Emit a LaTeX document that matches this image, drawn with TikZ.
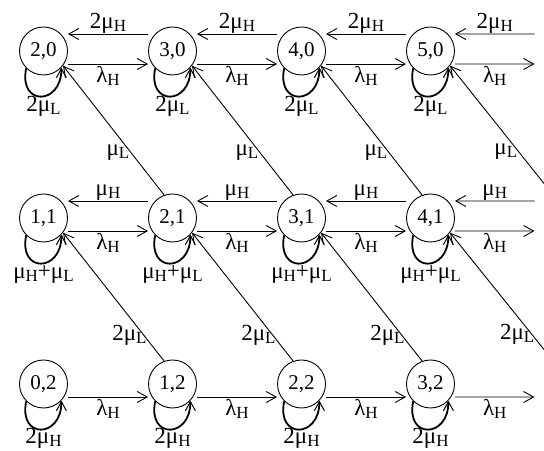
\documentclass[tikz,border=0pt]{standalone}
\usepackage{fontspec}
\setmainfont{Liberation Serif}
\usetikzlibrary{arrows.meta,calc}
\newcommand\sbs[1]{\raisebox{-3bp}{\fontsize{17bp}{17bp}\selectfont #1}}
\begin{document}
\begin{tikzpicture}[x=1bp,y=1bp,
  state/.style={circle,draw,line width=0.9bp,minimum size=48bp,inner sep=0pt,font=\fontsize{21bp}{24bp}\selectfont},
  tr/.style={line width=0.9bp,-{Straight Barb[length=10bp,width=11bp]}},
  selfloop/.style={line width=1.8bp,-{Straight Barb[length=9bp,width=10bp,line width=1bp]}},
  lbl/.style={font=\fontsize{23bp}{26bp}\selectfont,inner sep=0.5bp},
  lblb/.style={lbl,inner sep=2bp},
  diag/.style={lbl,anchor=east,inner sep=1bp},
]
\useasboundingbox (0,0) rectangle (544,451);

% states
\node[state] (s20) at (43.5,400) {2,0};
\node[state] (s30) at (172.5,400) {3,0};
\node[state] (s40) at (301.5,400) {4,0};
\node[state] (s50) at (430.5,400) {5,0};
\node[state] (s11) at (43.5,233) {1,1};
\node[state] (s21) at (172.5,233) {2,1};
\node[state] (s31) at (301.5,233) {3,1};
\node[state] (s41) at (430.5,233) {4,1};
\node[state] (s02) at (43.5,67) {0,2};
\node[state] (s12) at (172.5,67) {1,2};
\node[state] (s22) at (301.5,67) {2,2};
\node[state] (s32) at (430.5,67) {3,2};

% free ends at the right edge
\coordinate (e0t) at (534.5,417);
\coordinate (e0b) at (534.5,387);
\coordinate (e1t) at (534.5,250);
\coordinate (e1b) at (534.5,220);
\coordinate (e2b) at (534.5,54);
\coordinate (d0) at (544,267.5);
\coordinate (d1) at (544,101.5);

% row 0 horizontal
\draw[tr] ([yshift=17bp]s30.west) -- node[lbl,above]{2μ\sbs{H}} ([yshift=17bp]s20.east);
\draw[tr] ([yshift=17bp]s40.west) -- node[lbl,above]{2μ\sbs{H}} ([yshift=17bp]s30.east);
\draw[tr] ([yshift=17bp]s50.west) -- node[lbl,above]{2μ\sbs{H}} ([yshift=17bp]s40.east);
\draw[tr] (e0t) -- node[lbl,above]{2μ\sbs{H}} ([yshift=17bp]s50.east);
\draw[tr] ([yshift=-13bp]s20.east) -- node[lblb,below]{λ\sbs{H}} ([yshift=-13bp]s30.west);
\draw[tr] ([yshift=-13bp]s30.east) -- node[lblb,below]{λ\sbs{H}} ([yshift=-13bp]s40.west);
\draw[tr] ([yshift=-13bp]s40.east) -- node[lblb,below]{λ\sbs{H}} ([yshift=-13bp]s50.west);
\draw[tr] ([yshift=-13bp]s50.east) -- node[lblb,below]{λ\sbs{H}} (e0b);

% row 1 horizontal
\draw[tr] ([yshift=17bp]s21.west) -- node[lbl,above]{μ\sbs{H}} ([yshift=17bp]s11.east);
\draw[tr] ([yshift=17bp]s31.west) -- node[lbl,above]{μ\sbs{H}} ([yshift=17bp]s21.east);
\draw[tr] ([yshift=17bp]s41.west) -- node[lbl,above]{μ\sbs{H}} ([yshift=17bp]s31.east);
\draw[tr] (e1t) -- node[lbl,above]{μ\sbs{H}} ([yshift=17bp]s41.east);
\draw[tr] ([yshift=-13bp]s11.east) -- node[lblb,below]{λ\sbs{H}} ([yshift=-13bp]s21.west);
\draw[tr] ([yshift=-13bp]s21.east) -- node[lblb,below]{λ\sbs{H}} ([yshift=-13bp]s31.west);
\draw[tr] ([yshift=-13bp]s31.east) -- node[lblb,below]{λ\sbs{H}} ([yshift=-13bp]s41.west);
\draw[tr] ([yshift=-13bp]s41.east) -- node[lblb,below]{λ\sbs{H}} (e1b);

% row 2 horizontal
\draw[tr] ([yshift=-13bp]s02.east) -- node[lblb,below]{λ\sbs{H}} ([yshift=-13bp]s12.west);
\draw[tr] ([yshift=-13bp]s12.east) -- node[lblb,below]{λ\sbs{H}} ([yshift=-13bp]s22.west);
\draw[tr] ([yshift=-13bp]s22.east) -- node[lblb,below]{λ\sbs{H}} ([yshift=-13bp]s32.west);
\draw[tr] ([yshift=-13bp]s32.east) -- node[lblb,below]{λ\sbs{H}} (e2b);

% diagonals row 1 -> row 0
\draw[tr] (s21.110) -- node[diag,pos=0.33]{μ\sbs{L}} (s20.-37);
\draw[tr] (s31.110) -- node[diag,pos=0.33]{μ\sbs{L}} (s30.-37);
\draw[tr] (s41.110) -- node[diag,pos=0.33]{μ\sbs{L}} (s40.-37);
\draw[tr] (d0) -- node[diag,pos=0.27]{μ\sbs{L}} (s50.-37);

% diagonals row 2 -> row 1
\draw[tr] (s12.110) -- node[diag,pos=0.2,inner sep=0pt,xshift=3bp]{2μ\sbs{L}} (s11.-37);
\draw[tr] (s22.110) -- node[diag,pos=0.2,inner sep=0pt,xshift=3bp]{2μ\sbs{L}} (s21.-37);
\draw[tr] (s32.110) -- node[diag,pos=0.2,inner sep=0pt,xshift=3bp]{2μ\sbs{L}} (s31.-37);
\draw[tr] (d1) -- node[diag,pos=0.13,inner sep=0pt,xshift=3bp]{2μ\sbs{L}} (s41.-37);

% self loops
\foreach \s in {s20,s30,s40,s50,s11,s21,s31,s41,s02,s12,s22,s32}{
  \draw[selfloop] (\s.-135) .. controls +(-8,-38) and +(0,-38) .. (\s.-43);
}
\foreach \s in {s20,s30,s40,s50}{
  \node[lbl,anchor=base,inner sep=0pt] (l\s) at ($(\s)+(0,-61)$) {2μ\sbs{L}};
}
\foreach \s in {s11,s21,s31,s41}{
  \node[lbl,anchor=base,inner sep=0pt] (l\s) at ($(\s)+(0,-61)$) {μ\sbs{H}+μ\sbs{L}};
}
\foreach \s in {s02,s12,s22,s32}{
  \node[lbl,anchor=base,inner sep=0pt] (l\s) at ($(\s)+(0,-59.5)$) {2μ\sbs{H}};
}
\end{tikzpicture}
\end{document}
